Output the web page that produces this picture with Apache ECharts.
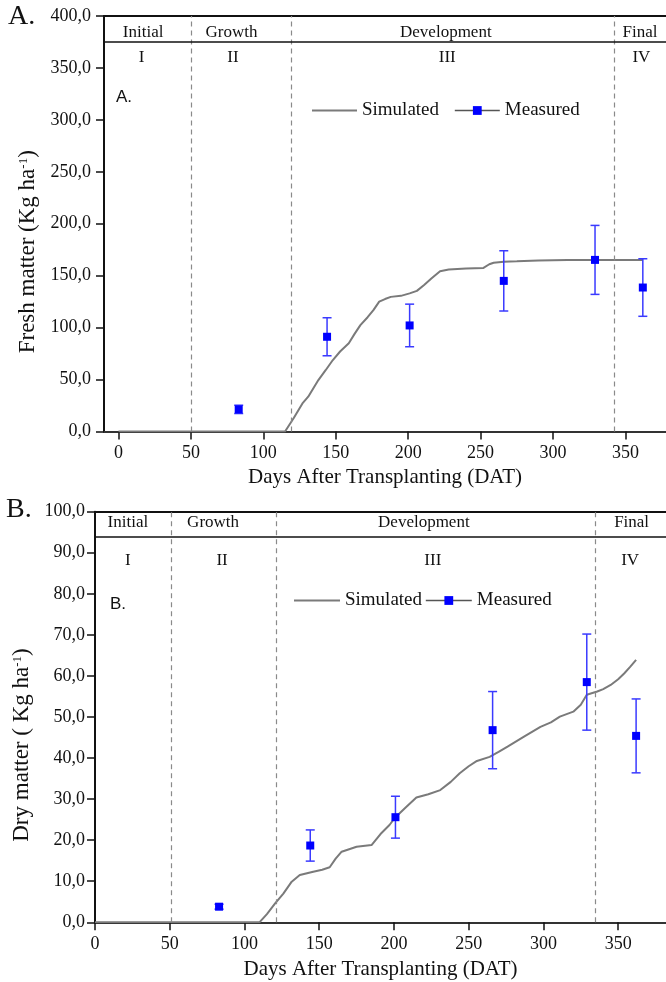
<!DOCTYPE html>
<html>
<head>
<meta charset="utf-8">
<script src="https://cdn.jsdelivr.net/npm/echarts@6/dist/echarts.min.js"></script>
<style>
  html, body { margin: 0; padding: 0; background: #fff; }
  #chart { width: 666px; height: 982px; }
</style>
</head>
<body>
<div id="chart"></div>
<script>
// ---- data ----
const dayTicks = [0, 50, 100, 150, 200, 250, 300, 350];
const stageNames = ['Initial', 'Growth', 'Development', 'Final'];
const stageNumerals = ['I', 'II', 'III', 'IV'];

// A. fresh matter
const simDaysA = [0, 115, 121, 127, 131, 138, 143, 148, 153, 159, 163, 167, 172, 176, 180, 184, 188, 195, 201, 206, 211, 216, 222, 228, 240, 252, 256, 259, 266, 275, 290, 310, 330, 362];
const simFreshA = [0, 0, 13, 27, 33.5, 49.5, 59, 68.8, 77, 85, 94, 102.4, 110, 116.8, 125, 127.5, 129.6, 130.6, 133, 135.4, 141, 147.3, 154.3, 156, 157, 157.5, 161, 162.4, 163.4, 163.8, 164.6, 165, 165.2, 165.2];
const measDaysA = [83, 144, 201, 266, 329, 362];
const measFreshA = [21.3, 91.2, 102.1, 145, 165.2, 138.6];
const errFreshA = [4, 18.3, 20.5, 29, 33.2, 27.7];
const stageLimitsA = [50, 119, 342];
const stageLabelDaysA = [17, 78, 226, 360];
const stageNumDaysA = [16, 79, 227, 361];

// B. dry matter
const simDaysB = [0, 110, 115, 120.5, 126, 131.6, 137, 146, 152, 157, 161, 165, 175, 185, 191, 197, 201, 208, 215, 223, 231, 238, 244, 250, 255.5, 264, 270, 276, 287, 298, 305, 311, 320, 325, 329, 336, 340, 345, 350, 354, 358, 362];
const simDryB = [0, 0, 2, 4.6, 7, 9.9, 11.5, 12.3, 12.8, 13.4, 15.5, 17.2, 18.4, 18.8, 21.5, 23.7, 25.6, 28, 30.4, 31.2, 32.2, 34.2, 36.3, 38, 39.3, 40.3, 41.5, 42.8, 45.2, 47.6, 48.7, 50.1, 51.3, 53, 55.4, 56.2, 56.8, 57.8, 59.2, 60.6, 62.2, 63.9];
const measDaysB = [83, 144, 201, 266, 329, 362];
const measDryB = [3.8, 18.7, 25.6, 46.8, 58.5, 45.4];
const errDryB = [0.6, 3.8, 5.1, 9.4, 11.7, 9];
const stageLimitsB = [51, 121, 335];
const stageLabelDaysB = [22, 79, 220, 359];
const stageNumDaysB = [22, 85, 226, 358];

// ---- helpers ----
const SERIF = 'Liberation Serif';
const SANS = 'Liberation Sans';
const zip = (a, b, c) => a.map((v, i) => c ? [v, b[i], c[i]] : [v, b[i]]);
const comma = v => v.toFixed(1).replace('.', ',');

function errorBars(params, api) {
    const x = api.value(0), y = api.value(1), e = api.value(2);
    const hi = api.coord([x, y + e]);
    const lo = api.coord([x, y - e]);
    const w = 4.5;
    const st = { stroke: '#3a3aff', lineWidth: 1.5 };
    return {
        type: 'group',
        children: [
            { type: 'line', shape: { x1: hi[0], y1: hi[1], x2: lo[0], y2: lo[1] }, style: st },
            { type: 'line', shape: { x1: hi[0] - w, y1: hi[1], x2: hi[0] + w, y2: hi[1] }, style: st },
            { type: 'line', shape: { x1: lo[0] - w, y1: lo[1], x2: lo[0] + w, y2: lo[1] }, style: st }
        ]
    };
}

const stageText = {};
function textItem(params, api) {
    const p = api.coord([api.value(0), api.value(1)]);
    return {
        type: 'text',
        x: p[0], y: p[1],
        style: {
            text: stageText[params.seriesIndex][params.dataIndex],
            textAlign: 'center', textVerticalAlign: 'middle',
            fontSize: 17, fontFamily: SERIF, fill: '#111'
        }
    };
}

function buildPanel(idx, o) {
    const xi = idx * 2, yi = idx;
    const dashed = { type: [5, 4], color: '#8a8a8a', width: 1.2 };
    return [
        {
            name: 'Simulated', type: 'line', xAxisIndex: xi, yAxisIndex: yi,
            data: zip(o.simDays, o.simVals), symbol: 'none',
            lineStyle: { color: '#7a7a7a', width: 2 }, itemStyle: { color: '#7a7a7a' },
            z: 3,
            markLine: {
                silent: true, symbol: ['none', 'none'], label: { show: false },
                data: o.limits.map(d => ({ xAxis: d, lineStyle: dashed }))
                    .concat([{ yAxis: o.headerY, lineStyle: { type: 'solid', color: '#111', width: 1.5 } }])
            }
        },
        {
            name: 'Measured', type: 'line', xAxisIndex: xi, yAxisIndex: yi,
            data: zip(o.measDays, o.measVals), symbol: 'rect', symbolSize: 8,
            lineStyle: { opacity: 0 }, itemStyle: { color: '#0000ff' }, z: 5
        },
        {
            type: 'custom', xAxisIndex: xi, yAxisIndex: yi, silent: true, z: 4,
            data: zip(o.measDays, o.measVals, o.errs), renderItem: errorBars
        }
    ];
}

const chart = echarts.init(document.getElementById('chart'));

const series = buildPanel(0, {
    simDays: simDaysA, simVals: simFreshA, measDays: measDaysA, measVals: measFreshA,
    errs: errFreshA, limits: stageLimitsA, headerY: 375
}).concat(buildPanel(1, {
    simDays: simDaysB, simVals: simDryB, measDays: measDaysB, measVals: measDryB,
    errs: errDryB, limits: stageLimitsB, headerY: 94
}));

// stage names / numerals as data-positioned text
function pushText(xi, yi, days, yv, texts) {
    stageText[series.length] = texts;
    series.push({
        type: 'custom', xAxisIndex: xi, yAxisIndex: yi, silent: true, z: 6,
        data: days.map(d => [d, yv]), renderItem: textItem
    });
}
pushText(0, 0, stageLabelDaysA, 384.4, stageNames);
pushText(0, 0, stageNumDaysA, 360.4, stageNumerals);
pushText(2, 1, stageLabelDaysB, 97.4, stageNames);
pushText(2, 1, stageNumDaysB, 88.2, stageNumerals);

const xName = 'Days After Transplanting (DAT)';
const nameStyle = {
    color: '#111', fontFamily: SERIF, fontSize: 21,
    rich: { sup: { fontFamily: SERIF, fontSize: 12, verticalAlign: 'top', color: '#111' } }
};

function bottomX(grid, min, max, gap) {
    return {
        gridIndex: grid, type: 'value', position: 'bottom', min: min, max: max,
        name: xName, nameLocation: 'middle', nameGap: gap, nameTextStyle: nameStyle,
        splitLine: { show: false },
        axisLine: { onZero: false, lineStyle: { color: '#333', width: 1.8 } },
        axisTick: { customValues: dayTicks, length: 8, lineStyle: { color: '#111', width: 1.5 } },
        axisLabel: {
            customValues: dayTicks, margin: 13,
            color: '#111', fontFamily: SERIF, fontSize: 18
        }
    };
}
function topX(grid) {
    return {
        gridIndex: grid, type: 'value', position: 'top', min: 0, max: 1,
        axisLine: { onZero: false, lineStyle: { color: '#111', width: 2 } },
        axisTick: { show: false }, axisLabel: { show: false }, splitLine: { show: false }
    };
}
function leftY(grid, max, interval, name, gap, margin) {
    return {
        gridIndex: grid, type: 'value', position: 'left', min: 0, max: max, interval: interval,
        name: name, nameLocation: 'middle', nameGap: gap,
        nameTextStyle: {
            ...nameStyle, fontSize: 23, padding: [0, 56, 0, 0],
            rich: { sup: { fontFamily: SERIF, fontSize: 13, verticalAlign: 'top', color: '#111' } }
        },
        splitLine: { show: false },
        axisLine: { show: true, onZero: false, lineStyle: { color: '#111', width: 2 } },
        axisTick: { show: true, length: 8, lineStyle: { color: '#111', width: 1.5 } },
        axisLabel: {
            margin: margin, formatter: comma,
            color: '#111', fontFamily: SERIF, fontSize: 18
        }
    };
}

function legendAt(left, top, width, gap) {
    return {
        left: left, top: top, itemWidth: width, itemGap: gap,
        itemHeight: 11, padding: 0, selectedMode: false,
        textStyle: { fontFamily: SERIF, fontSize: 19, color: '#111' },
        data: [
            { name: 'Simulated', itemStyle: { opacity: 0 } },
            { name: 'Measured', lineStyle: { opacity: 1, width: 1.5, color: '#555' } }
        ]
    };
}

chart.setOption({
    animation: false,
    backgroundColor: '#fff',
    textStyle: { fontFamily: SERIF },
    grid: [
        { left: 104, top: 16, width: 562, height: 415.5 },
        { left: 95, top: 511.7, width: 571, height: 410.6 }
    ],
    xAxis: [
        bottomX(0, -10, 378, 35), topX(0),
        bottomX(1, 0, 382, 37), topX(1)
    ],
    yAxis: [
        leftY(0, 400, 50, 'Fresh matter (Kg ha{sup|-1})', 64, 13),
        leftY(1, 100, 10, 'Dry matter ( Kg ha{sup|-1})', 56, 10)
    ],
    legend: [
        legendAt(311, 101, 45, 15),
        legendAt(293, 591, 46, 3)
    ],
    graphic: [
        { type: 'text', left: 8, top: 3, style: { text: 'A.', fontSize: 28, fontFamily: SERIF, fill: '#111' } },
        { type: 'text', left: 6, top: 496, style: { text: 'B.', fontSize: 28, fontFamily: SERIF, fill: '#111' } },
        { type: 'text', left: 116, top: 89, style: { text: 'A.', fontSize: 17, fontFamily: SANS, fill: '#111' } },
        { type: 'text', left: 110, top: 596, style: { text: 'B.', fontSize: 17, fontFamily: SANS, fill: '#111' } }
    ],
    series: series
});
</script>
</body>
</html>
